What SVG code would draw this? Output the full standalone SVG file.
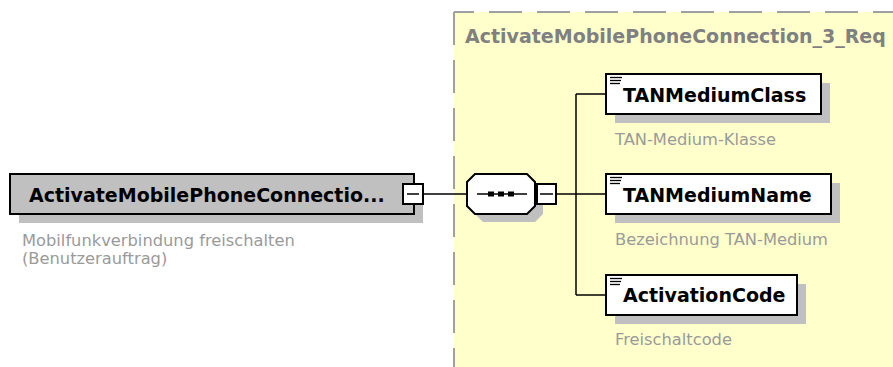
<svg xmlns="http://www.w3.org/2000/svg" width="893" height="367" viewBox="0 0 893 367">
<style>
.bg{fill:#ffffff}
.grp{fill:#ffffcc}
.dash{stroke:#a0a0a0;stroke-width:2;stroke-dasharray:33 15;fill:none}
.shadow{fill:#c0c0c0}
.box{fill:#ffffff;stroke:#000;stroke-width:2}
.boxg{fill:#c0c0c0;stroke:#000;stroke-width:2}
.ln{stroke:#000;stroke-width:1.5;fill:none}
.name{font-family:"DejaVu Sans",Verdana,sans-serif;font-weight:bold;font-size:19px;fill:#000}
.title{font-family:"DejaVu Sans",Verdana,sans-serif;font-weight:bold;font-size:19px;fill:#808080}
.lbl{font-family:"DejaVu Sans",Verdana,sans-serif;font-size:16.3px;fill:#9a9a9a}
.ic{stroke:#000;stroke-width:1.3}
</style>
<rect class="bg" x="0" y="0" width="893" height="367"/>
<g id="group-ActivateMobilePhoneConnection_3_Req">
<rect class="grp" x="454" y="12" width="450" height="370"/>
<line class="dash" x1="454" y1="12" x2="893" y2="12" stroke-dashoffset="13"/>
<line class="dash" x1="454" y1="12" x2="454" y2="367"/>
<text class="title" x="465" y="43">ActivateMobilePhoneConnection_3_Req</text>
</g>
<g id="connectors">
<line class="ln" x1="423" y1="194" x2="467" y2="194"/>
<line class="ln" x1="556" y1="194" x2="606" y2="194"/>
<line class="ln" x1="576" y1="94" x2="576" y2="295"/>
<line class="ln" x1="576" y1="94" x2="606" y2="94"/>
<line class="ln" x1="576" y1="295" x2="606" y2="295"/>
</g>
<g id="node-root">
<rect class="shadow" x="19" y="183" width="404" height="40"/>
<rect class="boxg" x="10" y="174" width="404" height="40"/>
<text class="name" x="29" y="202">ActivateMobilePhoneConnectio...</text>
<rect class="box" x="403" y="184" width="20" height="20"/>
<line class="ln" x1="407" y1="194" x2="419" y2="194"/>
<text class="lbl" x="22" y="246">Mobilfunkverbindung freischalten</text>
<text class="lbl" x="22" y="264">(Benutzerauftrag)</text>
</g>
<g id="node-sequence">
<polygon class="shadow" points="483,182 535,182 543,190 543,214 535,222 483,222 475,214 475,190"/>
<polygon class="box" points="475,174 527,174 535,182 535,206 527,214 475,214 467,206 467,182"/>
<line class="ln" x1="477" y1="194" x2="527" y2="194"/>
<rect x="488" y="191.5" width="6" height="5" fill="#000"/>
<rect x="498" y="191.5" width="6" height="5" fill="#000"/>
<rect x="508" y="191.5" width="6" height="5" fill="#000"/>
<rect class="box" x="537" y="184" width="19" height="20"/>
<line class="ln" x1="540" y1="194" x2="553" y2="194"/>
</g>
<g id="node-TANMediumClass">
<rect class="shadow" x="615" y="83" width="215" height="40"/>
<rect class="box" x="606" y="74" width="215" height="40"/>
<line class="ic" x1="610" y1="77.5" x2="622" y2="77.5"/>
<line class="ic" x1="610" y1="80.5" x2="621" y2="80.5"/>
<line class="ic" x1="610" y1="83.5" x2="620" y2="83.5"/>
<text class="name" x="623" y="102">TANMediumClass</text>
<text class="lbl" x="615" y="145">TAN-Medium-Klasse</text>
</g>
<g id="node-TANMediumName">
<rect class="shadow" x="615" y="183" width="225" height="40"/>
<rect class="box" x="606" y="174" width="225" height="40"/>
<line class="ic" x1="610" y1="177.5" x2="622" y2="177.5"/>
<line class="ic" x1="610" y1="180.5" x2="621" y2="180.5"/>
<line class="ic" x1="610" y1="183.5" x2="620" y2="183.5"/>
<text class="name" x="623" y="202">TANMediumName</text>
<text class="lbl" x="615" y="245">Bezeichnung TAN-Medium</text>
</g>
<g id="node-ActivationCode">
<rect class="shadow" x="615" y="284" width="191" height="40"/>
<rect class="box" x="606" y="275" width="191" height="40"/>
<line class="ic" x1="610" y1="278.5" x2="622" y2="278.5"/>
<line class="ic" x1="610" y1="281.5" x2="621" y2="281.5"/>
<line class="ic" x1="610" y1="284.5" x2="620" y2="284.5"/>
<text class="name" x="623" y="302">ActivationCode</text>
<text class="lbl" x="615" y="345">Freischaltcode</text>
</g>
</svg>
